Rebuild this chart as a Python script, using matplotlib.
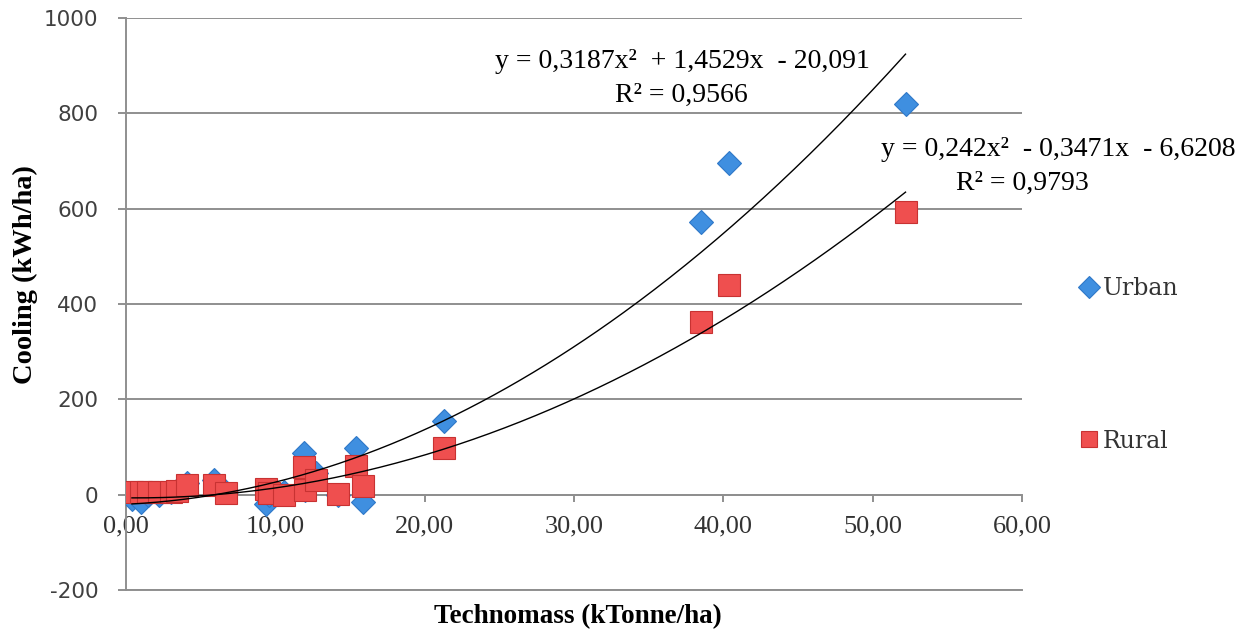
import matplotlib
matplotlib.use("Agg")
import matplotlib.pyplot as plt
import numpy as np
from matplotlib.ticker import FuncFormatter

# ---- data ----
technomass = [0.4, 1.0, 1.5, 2.2, 3.0, 3.4, 4.1, 5.9, 6.7, 9.4, 9.6, 10.6,
              11.9, 12.0, 12.7, 14.2, 15.4, 15.9, 21.3, 38.5, 40.4, 52.2]
urban = [-10, -15, 0, 0, 5, 10, 25, 30, 5, -20, 0, 5,
         88, 10, 45, 0, 97, -15, 155, 572, 695, 820]
rural = [5, 5, 5, 5, 5, 8, 20, 20, 3, 12, 3, 0,
         58, 10, 30, 2, 60, 18, 98, 362, 440, 592]
urban_coef = [0.3187, 1.4529, -20.091]
rural_coef = [0.242, -0.3471, -6.6208]
urban_eq = "y = 0,3187x\u00b2  + 1,4529x  - 20,091"
urban_r2 = "R\u00b2 = 0,9566"
rural_eq = "y = 0,242x\u00b2  - 0,3471x  - 6,6208"
rural_r2 = "R\u00b2 = 0,9793"
series_names = ["Urban", "Rural"]
xlabel = "Technomass (kTonne/ha)"
ylabel = "Cooling (kWh/ha)"

W, H = 1255, 637
fig = plt.figure(figsize=(W / 100, H / 100), dpi=100)
ax = fig.add_axes([126 / W, 1 - 590 / H, (1022 - 126) / W, (590 - 18) / H])

ax.set_xlim(0, 60)
ax.set_ylim(-200, 1000)
ax.set_xticks(np.arange(0, 61, 10))
ax.set_yticks(np.arange(-200, 1001, 200))

grid_c = "#8f8f8f"
ax.grid(axis="y", color=grid_c, linewidth=1.4, zorder=0)
ax.set_axisbelow(True)
for s in ["top", "right"]:
    ax.spines[s].set_visible(False)
ax.spines["left"].set_color(grid_c)
ax.spines["left"].set_linewidth(1.4)
ax.spines["bottom"].set_position(("data", 0))
ax.spines["bottom"].set_color(grid_c)
ax.spines["bottom"].set_linewidth(1.4)
ax.axhline(-200, color=grid_c, linewidth=1.4, zorder=0, clip_on=False)

ax.tick_params(axis="y", direction="out", length=6, width=1.4, color=grid_c, pad=14)
ax.tick_params(axis="x", direction="out", length=5, width=1.4, color=grid_c, pad=10)
ax.xaxis.set_major_formatter(FuncFormatter(lambda v, p: f"{v:.2f}".replace(".", ",")))
ax.yaxis.set_major_formatter(FuncFormatter(lambda v, p: f"{int(v)}"))
for lab in ax.get_yticklabels():
    lab.set_fontfamily("DejaVu Sans")
    lab.set_fontsize(15.5)
    lab.set_color("#404040")
for lab in ax.get_xticklabels():
    lab.set_fontfamily("Liberation Serif")
    lab.set_fontsize(19)
    lab.set_color("#333333")

x = np.array(technomass)
ax.plot(x, urban, linestyle="none", marker="D", markersize=12.5,
        markerfacecolor="#3f8fe0", markeredgecolor="#2f78c8", markeredgewidth=0.8,
        label=series_names[0], zorder=3)
ax.plot(x, rural, linestyle="none", marker="s", markersize=15.5,
        markerfacecolor="#ef4f4f", markeredgecolor="#c83232", markeredgewidth=0.8,
        label=series_names[1], zorder=4)

xf = np.linspace(x.min(), x.max(), 300)
ax.plot(xf, np.polyval(urban_coef, xf), color="black", linewidth=1.0, zorder=5)
ax.plot(xf, np.polyval(rural_coef, xf), color="black", linewidth=1.0, zorder=5)

serif = "Liberation Serif"
fig.text(682 / W, 1 - 62 / H, urban_eq, ha="center", va="center", fontsize=20, family=serif)
fig.text(681 / W, 1 - 95 / H, urban_r2, ha="center", va="center", fontsize=20, family=serif)
fig.text(1058 / W, 1 - 150 / H, rural_eq, ha="center", va="center", fontsize=20, family=serif)
fig.text(1022 / W, 1 - 183 / H, rural_r2, ha="center", va="center", fontsize=20, family=serif)

fig.text(578 / W, 1 - 617 / H, xlabel, ha="center", va="center", fontsize=19.5,
         family=serif, fontweight="bold")
fig.text(25 / W, 1 - 275 / H, ylabel, ha="center", va="center", fontsize=20.5,
         family=serif, fontweight="bold", rotation=90)

leg = ax.legend(loc="upper left", bbox_to_anchor=(1070 / W, 1 - 265 / H),
                bbox_transform=fig.transFigure, frameon=False, handlelength=0.6,
                handletextpad=0.3, labelspacing=5.5, borderpad=0,
                prop={"family": "DejaVu Serif", "size": 17})
for t in leg.get_texts():
    t.set_color("#333333")
leg.legend_handles[0].set_markersize(11)
leg.legend_handles[1].set_markersize(12)

fig.savefig("out.png", dpi=100)
